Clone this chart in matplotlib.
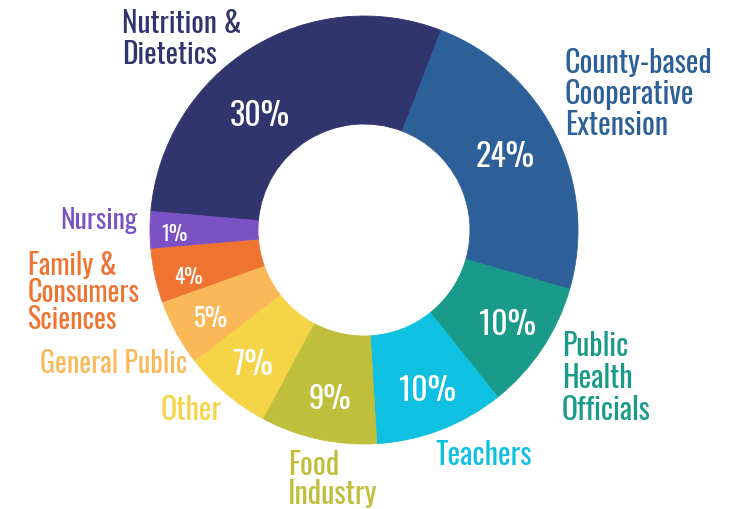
import matplotlib
matplotlib.use('Agg')
import matplotlib.pyplot as plt

# audience groups, clockwise from the top-left
groups = ['Nutrition &\nDietetics', 'County-based\nCooperative\nExtension',
          'Public\nHealth\nOfficials', 'Teachers', 'Food\nIndustry', 'Other',
          'General Public', 'Family &\nConsumers\nSciences', 'Nursing']
# wedge sizes as measured off the ring (nursing is drawn wider than 1%)
shares = [29.5, 23.6, 9.8, 9.8, 8.8, 6.7, 5.0, 4.1, 2.75]
pct_labels = ['30%', '24%', '10%', '10%', '9%', '7%', '5%', '4%', '1%']
colors = ['#31356d', '#2d5f98', '#1a9a8a', '#10c0e0', '#c0bf3b',
          '#f6d448', '#fbb858', '#ef7432', '#7a52c4']

W, H = 734, 509
FONT = ['Oswald', 'DejaVu Sans']

# layout in pixels from the top-left corner
cx, cy, r_out, ring = 364, 230, 214, 108
# name labels: x, first baseline, alignment, size, line step
name_pos = [(122, 33, 'left', 21.2, 31), (565, 73, 'left', 21.6, 31),
            (562, 356, 'left', 21.4, 32), (435, 465, 'left', 21.6, 0),
            (288, 475, 'left', 21.8, 29), (222, 420, 'right', 21.6, 0),
            (187, 373, 'right', 20.2, 0), (28, 275, 'left', 20.2, 27),
            (137, 229, 'right', 20, 0)]
# percent labels: centre x, baseline, size
pct_pos = [(260, 126, 23), (505, 167, 23), (508, 335, 23), (428, 401, 23),
           (330, 409, 22), (253, 375, 23), (211, 327, 18), (188, 284, 15),
           (175, 241, 15)]

fig = plt.figure(figsize=(W / 100, H / 100), dpi=100)
ax = fig.add_axes([0, 0, 1, 1])

wedges, _ = ax.pie(shares, colors=colors, startangle=175, counterclock=False,
                   radius=r_out, center=(cx, H - cy),
                   wedgeprops=dict(width=ring, linewidth=0.6))
for w in wedges:
    w.set_edgecolor(w.get_facecolor())

for name, col, (x, y, ha, fs, step) in zip(groups, colors, name_pos):
    for i, line in enumerate(name.split('\n')):
        ax.text(x, H - (y + i * step), line, ha=ha, va='baseline', color=col,
                fontsize=fs, family=FONT)

for lab, (x, y, fs) in zip(pct_labels, pct_pos):
    ax.text(x, H - y, lab, ha='center', va='baseline', color='white',
            fontsize=fs, family=FONT)

ax.set_xlim(0, W)
ax.set_ylim(0, H)
ax.set_aspect('auto')
ax.axis('off')

fig.savefig('out.png', dpi=100)
